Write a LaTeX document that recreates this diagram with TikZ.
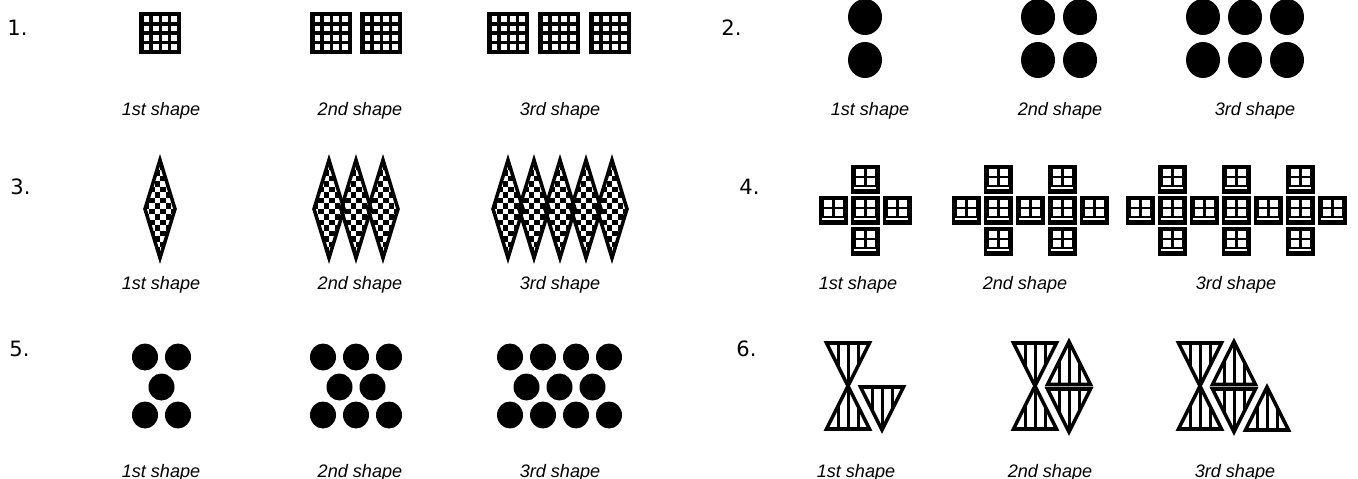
\documentclass[tikz,border=0pt]{standalone}
\usepackage{fontspec}
\setsansfont{Liberation Sans}
\newfontfamily\numfont{DejaVu Sans}
\usepackage{tikz}

\begin{document}
\begin{tikzpicture}[
      x=0.02cm, y=-0.02cm,
      num/.style={font=\numfont\fontsize{12}{14}\selectfont,anchor=base west,inner sep=0pt},
      lbl/.style={font=\sffamily\itshape\fontsize{10.3}{12}\selectfont,anchor=base,inner sep=0pt},
      edge/.style={line width=2pt},
      hatch/.style={line width=1.7pt},
      dot/.style={fill=black},
      bigwin/.pic={
        \fill (0,0) rectangle (42,42);
        \foreach \i in {0,...,3} \foreach \j in {0,...,3}
          \fill[white] ({4.5+9.25*\i},{4.5+9.25*\j}) rectangle ++(5.75,5.75);
      },
      smallwin/.pic={
        \fill (-14.5,-14.5) rectangle (14.5,14.5);
        \foreach \i in {0,1} \foreach \j in {0,1}
          \fill[white] ({-9.5+11*\i},{-10.5+9*\j}) rectangle ++(8,6.5);
        \fill[white] (-11,7.5) rectangle (11,9);
      },
      chkdiam/.pic={
        \begin{scope}
          \clip (0,-49) -- (15,0) -- (0,49) -- (-15,0) -- cycle;
          \foreach \i in {-3,...,2} \foreach \j in {-9,...,9}{
            \pgfmathtruncatemacro\odd{mod(\i+\j+40,2)}
            \ifnum\odd=0 \fill ({5.5*(\i)},{5.5*(\j)}) rectangle ++(5.5,5.5); \fi
          }
        \end{scope}
        \draw[edge] (0,-49) -- (15,0) -- (0,49) -- (-15,0) -- cycle;
      },
      tridn/.pic={
        \begin{scope}
          \clip (-21.5,-21.5) -- (21.5,-21.5) -- (0,21.5) -- cycle;
          \foreach \x in {-10,0,10} \draw[hatch] (\x,-22) -- (\x,22);
        \end{scope}
        \draw[edge] (-21.5,-21.5) -- (21.5,-21.5) -- (0,21.5) -- cycle;
      },
      triup/.pic={
        \begin{scope}
          \clip (-21.5,21.5) -- (21.5,21.5) -- (0,-21.5) -- cycle;
          \foreach \x in {-10,0,10} \draw[hatch] (\x,-22) -- (\x,22);
        \end{scope}
        \draw[edge] (-21.5,21.5) -- (21.5,21.5) -- (0,-21.5) -- cycle;
      },
    ]
  \useasboundingbox (0,0) rectangle (1358,479);

  \node[num] (n1) at (7,36) {1.};
  \node[num] (n2) at (721,36) {2.};
  \node[num] (n3) at (10,195) {3.};
  \node[num] (n4) at (739,195) {4.};
  \node[num] (n5) at (9,357) {5.};
  \node[num] (n6) at (736,357) {6.};

  \foreach \x in {139,310,360,487,538,589} \pic at (\x,12) {bigwin};

  \foreach \x in {865,1038,1080,1203,1245,1287} \foreach \y in {17,60}
    \fill[dot] (\x,\y) ellipse [x radius=17, y radius=18];

  \foreach \x in {160,329,356,383,508,534,560,586,612} \pic at (\x,209) {chkdiam};

  \foreach \x in {833,865,897,966,998,1030,1062,1094,1140,1172,1204,1236,1268,1300,1332}
    \pic at (\x,211) {smallwin};
  \foreach \x in {865,998,1062,1172,1236,1300} \foreach \y in {180,242}
    \pic at (\x,\y) {smallwin};

  \foreach \x in {145,178,323,356,389,510,543,576,609} \foreach \y in {357,415}
    \fill[dot] (\x,\y) ellipse [x radius=13, y radius=13.5];
  \foreach \x in {161.5,339.5,372.5,526.5,559.5,592.5}
    \fill[dot] (\x,387) ellipse [x radius=13, y radius=13.5];

  \foreach \x in {848,1035,1200} {
    \pic at (\x,364.5) {tridn};
    \pic at (\x,407.5) {triup};
  }
  \pic at (882,408.5) {tridn};
  \pic at (1069,363) {triup};
  \pic at (1069,410.5) {tridn};
  \pic at (1234,363) {triup};
  \pic at (1234,410.5) {tridn};
  \pic at (1267,408.5) {triup};

  \node[lbl] (a1) at (161,116) {1st shape};
  \node[lbl] (a2) at (360,116) {2nd shape};
  \node[lbl] (a3) at (560,116) {3rd shape};
  \node[lbl] (b1) at (870,116) {1st shape};
  \node[lbl] (b2) at (1060,116) {2nd shape};
  \node[lbl] (b3) at (1255,116) {3rd shape};
  \node[lbl] (c1) at (161,290) {1st shape};
  \node[lbl] (c2) at (360,290) {2nd shape};
  \node[lbl] (c3) at (560,290) {3rd shape};
  \node[lbl] (d1) at (858,290) {1st shape};
  \node[lbl] (d2) at (1025,290) {2nd shape};
  \node[lbl] (d3) at (1236,290) {3rd shape};
  \node[lbl] (e1) at (161,477) {1st shape};
  \node[lbl] (e2) at (360,477) {2nd shape};
  \node[lbl] (e3) at (560,477) {3rd shape};
  \node[lbl] (f1) at (856,477) {1st shape};
  \node[lbl] (f2) at (1050,477) {2nd shape};
  \node[lbl] (f3) at (1235,477) {3rd shape};
\end{tikzpicture}
\end{document}
